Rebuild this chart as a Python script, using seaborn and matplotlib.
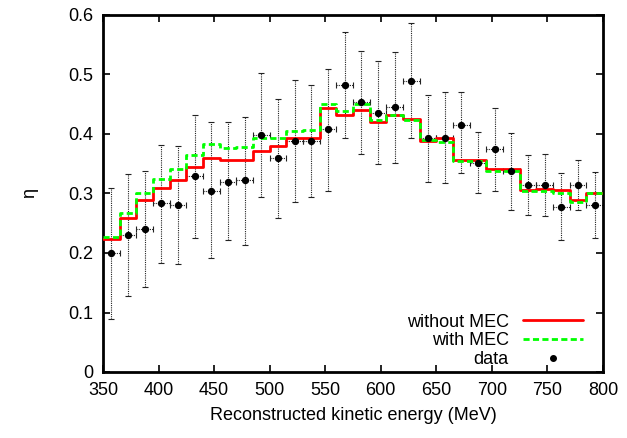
import numpy as np
import pandas as pd
import matplotlib
matplotlib.use("Agg")
import matplotlib.pyplot as plt
import seaborn as sns
from matplotlib.lines import Line2D

# Bin edges (MeV)
bin_edges = [350 + 15 * k for k in range(31)]

without_mec = [0.224, 0.259, 0.289, 0.309, 0.323, 0.344, 0.359, 0.357, 0.357, 0.372,
               0.379, 0.393, 0.393, 0.444, 0.432, 0.440, 0.420, 0.432, 0.426, 0.389,
               0.394, 0.357, 0.356, 0.341, 0.341, 0.306, 0.307, 0.306, 0.289, 0.301]
with_mec = [0.227, 0.267, 0.301, 0.324, 0.341, 0.364, 0.384, 0.376, 0.378, 0.393,
            0.394, 0.405, 0.406, 0.451, 0.439, 0.451, 0.424, 0.432, 0.424, 0.390,
            0.387, 0.355, 0.354, 0.338, 0.337, 0.304, 0.304, 0.301, 0.286, 0.301]

data_eta = [0.200, 0.230, 0.241, 0.284, 0.280, 0.330, 0.305, 0.320, 0.322, 0.398,
            0.359, 0.389, 0.389, 0.408, 0.483, 0.453, 0.435, 0.445, 0.489, 0.393,
            0.394, 0.415, 0.352, 0.374, 0.338, 0.315, 0.315, 0.277, 0.315, 0.281]
data_err_lo = [0.111, 0.102, 0.098, 0.100, 0.099, 0.104, 0.114, 0.098, 0.109, 0.104,
               0.101, 0.103, 0.095, 0.103, 0.089, 0.087, 0.086, 0.094, 0.096, 0.073,
               0.077, 0.080, 0.051, 0.069, 0.065, 0.051, 0.053, 0.055, 0.043, 0.055]
data_err_hi = [0.110, 0.102, 0.097, 0.098, 0.099, 0.102, 0.115, 0.100, 0.107, 0.105,
               0.099, 0.102, 0.094, 0.102, 0.088, 0.086, 0.088, 0.093, 0.097, 0.073,
               0.077, 0.056, 0.052, 0.069, 0.064, 0.050, 0.051, 0.057, 0.042, 0.055]

x_ticks = [350, 400, 450, 500, 550, 600, 650, 700, 750, 800]
y_ticks = [0, 0.1, 0.2, 0.3, 0.4, 0.5, 0.6]

sns.set_style("ticks")
plt.rcParams['font.family'] = ['Liberation Sans', 'DejaVu Sans']
plt.rcParams['text.color'] = 'black'
plt.rcParams['axes.labelcolor'] = 'black'

fig = plt.figure(figsize=(6.27, 4.38), dpi=100)
ax = fig.add_axes([103 / 627, 1 - 372 / 438, 500 / 627, 357 / 438])

edges = np.array(bin_edges, dtype=float)
centers = 0.5 * (edges[:-1] + edges[1:])
half = 0.5 * np.diff(edges)

step_df = pd.DataFrame({
    "x": np.concatenate([edges, edges]),
    "y": np.concatenate([without_mec + [without_mec[-1]], with_mec + [with_mec[-1]]]),
    "model": ["without MEC"] * len(edges) + ["with MEC"] * len(edges),
})

# error bars (dotted, with caps)
eb = ax.errorbar(centers, data_eta, yerr=[data_err_lo, data_err_hi], xerr=half,
                 fmt='none', ecolor='#222222', elinewidth=0.8, capsize=2.5,
                 capthick=0.8, zorder=2)
for lc in eb[2]:
    lc.set_linestyle((0, (1, 1)))

sns.lineplot(data=step_df[step_df.model == "without MEC"], x="x", y="y",
             drawstyle="steps-post", color="#ff0000", linewidth=2.0,
             ax=ax, legend=False, zorder=3)
sns.lineplot(data=step_df[step_df.model == "with MEC"], x="x", y="y",
             drawstyle="steps-post", color="#00ff00", linewidth=2.0,
             dashes=False, ax=ax, legend=False, zorder=4)
ax.lines[-1].set_linestyle((0, (2.2, 1.2)))

sns.scatterplot(x=centers, y=data_eta, color="black", s=28, edgecolor="black",
                linewidth=0, ax=ax, zorder=5)

ax.set_xlim(350, 800)
ax.set_ylim(0, 0.6)
ax.set_xticks(x_ticks)
ax.set_yticks(y_ticks)
ax.set_yticklabels([f"{v:g}" for v in y_ticks])
ax.tick_params(direction='in', length=5, width=1.2, top=True, right=True,
               labelsize=13, pad=7, colors='black')
for s in ax.spines.values():
    s.set_linewidth(2.0)
    s.set_color('black')
    s.set_visible(True)

ax.set_xlabel("Reconstructed kinetic energy (MeV)", fontsize=13, labelpad=6, color='black')
ax.set_ylabel("η", fontsize=13, labelpad=22, color='black')

handles = [
    Line2D([], [], color="#ff0000", linewidth=2.0),
    Line2D([], [], color="#00ff00", linewidth=2.0, linestyle=(0, (2.2, 1.2))),
    Line2D([], [], color="black", marker='o', linestyle='none', markersize=4),
]
leg = ax.legend(handles, ["without MEC", "with MEC", "data"], loc="lower right",
                frameon=False, markerfirst=False, fontsize=13, handlelength=3.3,
                labelspacing=0.1, handletextpad=0.8, borderaxespad=0.3,
                bbox_to_anchor=(0.985, -0.025))
for t in leg.get_texts():
    t.set_ha('right')
    t.set_color('black')
leg._legend_box.align = "right"

fig.savefig("out.png", dpi=100)
